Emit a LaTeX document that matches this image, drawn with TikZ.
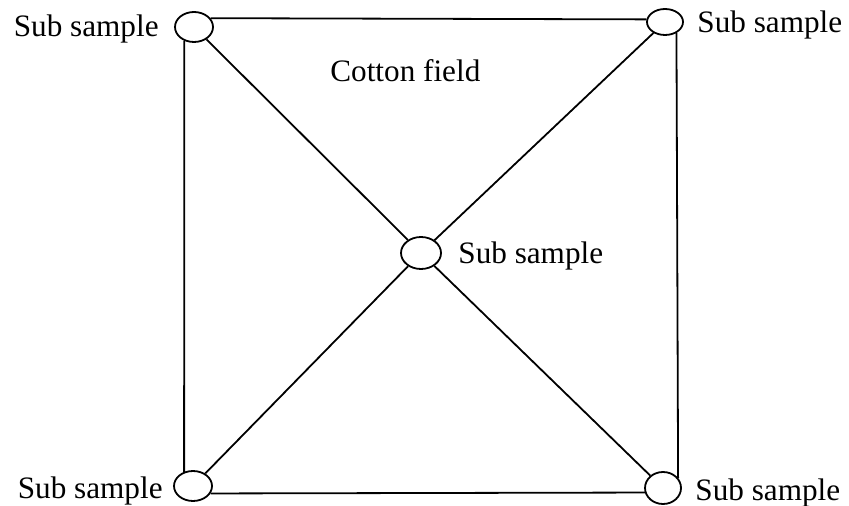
\documentclass[tikz,border=0pt]{standalone}
\usepackage{fontspec}
\setmainfont{Liberation Serif}
\usetikzlibrary{shapes.geometric}
\begin{document}
\begin{tikzpicture}[x=0.5pt,y=-0.5pt,
  samp/.style={draw, ellipse, line width=0.9pt, inner sep=0pt, minimum width=19pt, minimum height=15pt},
  lbl/.style={inner sep=0pt, font=\fontsize{15.6}{18}\selectfont},
  edge/.style={line width=0.9pt}]
\useasboundingbox (0,0) rectangle (849,506);
\node[samp] (tl) at (194,27) {};
\node[samp, minimum width=18pt, minimum height=13pt] (tr) at (665,22) {};
\node[samp, minimum width=20pt, minimum height=16pt] (c) at (421,253) {};
\node[samp] (bl) at (193,486) {};
\node[samp, minimum width=18pt, minimum height=16pt] (br) at (663,488) {};
\node[lbl, anchor=base east] (ltl) at (159,37) {Sub sample};
\node[lbl, anchor=base west] (ltr) at (697,33) {Sub sample};
\node[lbl, anchor=base west] (lc) at (458,264) {Sub sample};
\node[lbl, anchor=base east] (lbl) at (163,498) {Sub sample};
\node[lbl, anchor=base west] (lbr) at (695,500) {Sub sample};
\node[lbl, anchor=base west] (cf) at (330,82) {Cotton field};
\draw[edge] (tl.28) -- (tr.172);
\draw[edge] (tl.-125) -- (bl.122);
\draw[edge] (tr.-44) -- (br.34);
\draw[edge] (bl.-23) -- (br.-166);
\draw[edge] (tl) -- (c) -- (br);
\draw[edge] (tr) -- (c) -- (bl);
\end{tikzpicture}
\end{document}
